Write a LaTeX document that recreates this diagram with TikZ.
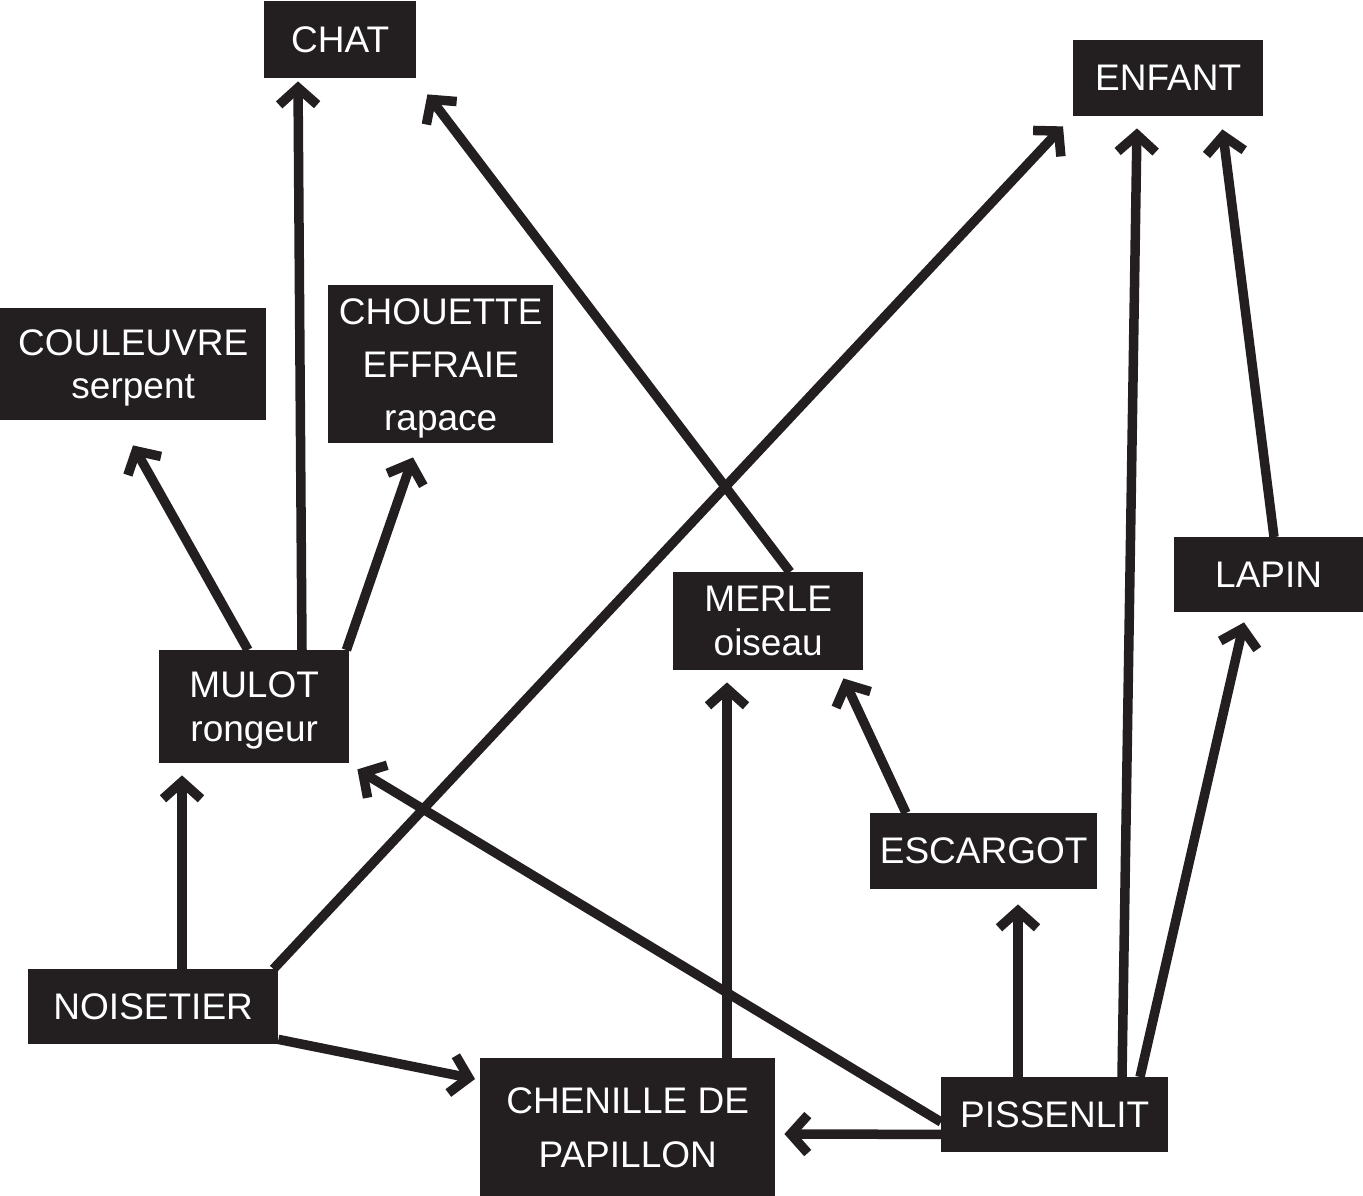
\documentclass[tikz,border=0pt]{standalone}
\usepackage{fontspec}
\setmainfont{Liberation Sans}
\usetikzlibrary{arrows.meta,calc}
\definecolor{ink}{HTML}{231F20}
\begin{document}
\begin{tikzpicture}[x=1pt,y=-1pt,
  box/.style={anchor=north west,fill=ink,text=white,inner sep=0pt,align=center,
    font=\fontsize{37}{43}\selectfont},
  arr/.style={draw=ink,line width=9.5pt,-{Straight Barb[length=17pt,width=38pt]}}]
\useasboundingbox (0,0) rectangle (1363,1196);
\node[box,minimum width=152pt,minimum height=77pt] (chat) at (264,1) {CHAT};
\node[box,minimum width=190pt,minimum height=76pt] (enfant) at (1073,40) {ENFANT};
\node[box,minimum width=266pt,minimum height=112pt,text depth=-2pt] (couleuvre) at (0,308) {COULEUVRE\\serpent};
\node[box,minimum width=225pt,minimum height=158pt,text depth=-4pt,font=\fontsize{37}{53}\selectfont] (chouette) at (328,285) {CHOUETTE\\EFFRAIE\\rapace};
\node[box,minimum width=190pt,minimum height=113pt,text depth=-4pt,font=\fontsize{37}{44}\selectfont] (mulot) at (159,650) {MULOT\\rongeur};
\node[box,minimum width=190pt,minimum height=98pt,text depth=-6pt,font=\fontsize{37}{44}\selectfont] (merle) at (673,572) {MERLE\\oiseau};
\node[box,minimum width=189pt,minimum height=75pt] (lapin) at (1174,537) {LAPIN};
\node[box,minimum width=227pt,minimum height=76pt] (escargot) at (870,813) {ESCARGOT};
\node[box,minimum width=250pt,minimum height=75pt] (noisetier) at (28,969) {NOISETIER};
\node[box,minimum width=295pt,minimum height=138pt,text depth=-4pt,font=\fontsize{37}{54}\selectfont] (chenille) at (480,1058) {CHENILLE DE\\PAPILLON};
\node[box,minimum width=227pt,minimum height=75pt] (pissenlit) at (941,1077) {PISSENLIT};
% arrows
\draw[arr] ($(mulot.north west)+(143,0)$) -- ($(chat.south west)+(34,3)$);
\draw[arr] ($(merle.north west)+(117,0)$) -- ($(chat.south east)+(11,16)$);
\draw[arr] ($(mulot.north west)+(89,0)$) -- ($(couleuvre.south west)+(133,25)$);
\draw[arr] ($(mulot.north east)+(-3,0)$) -- ($(chouette.south west)+(85,14)$);
\draw[arr] ($(noisetier.north east)+(-5,0)$) -- ($(enfant.south west)+(-10,10)$);
\draw[arr] ($(noisetier.north west)+(154,0)$) -- ($(mulot.south west)+(23,12)$);
\draw[arr] ($(noisetier.south east)+(0,-5)$) -- ($(chenille.north west)+(-5,21)$);
\draw[arr] ($(chenille.north west)+(247,0)$) -- ($(merle.south west)+(54,12)$);
\draw[arr] ($(escargot.north west)+(36,0)$) -- ($(merle.south east)+(-20,8)$);
\draw[arr] ($(pissenlit.north west)+(77,0)$) -- ($(escargot.south west)+(148,15)$);
\draw[arr] ($(pissenlit.south west)+(0,-18)$) -- ($(chenille.north east)+(9,76)$);
\draw[arr] ($(pissenlit.north west)+(0,45)$) -- ($(mulot.south east)+(8,6)$);
\draw[arr] ($(pissenlit.north west)+(181,0)$) -- ($(enfant.south west)+(64,12)$);
\draw[arr] ($(pissenlit.north west)+(199,0)$) -- ($(lapin.south west)+(70,10)$);
\draw[arr] ($(lapin.north west)+(100,0)$) -- ($(enfant.south east)+(-41,13)$);
\end{tikzpicture}
\end{document}
